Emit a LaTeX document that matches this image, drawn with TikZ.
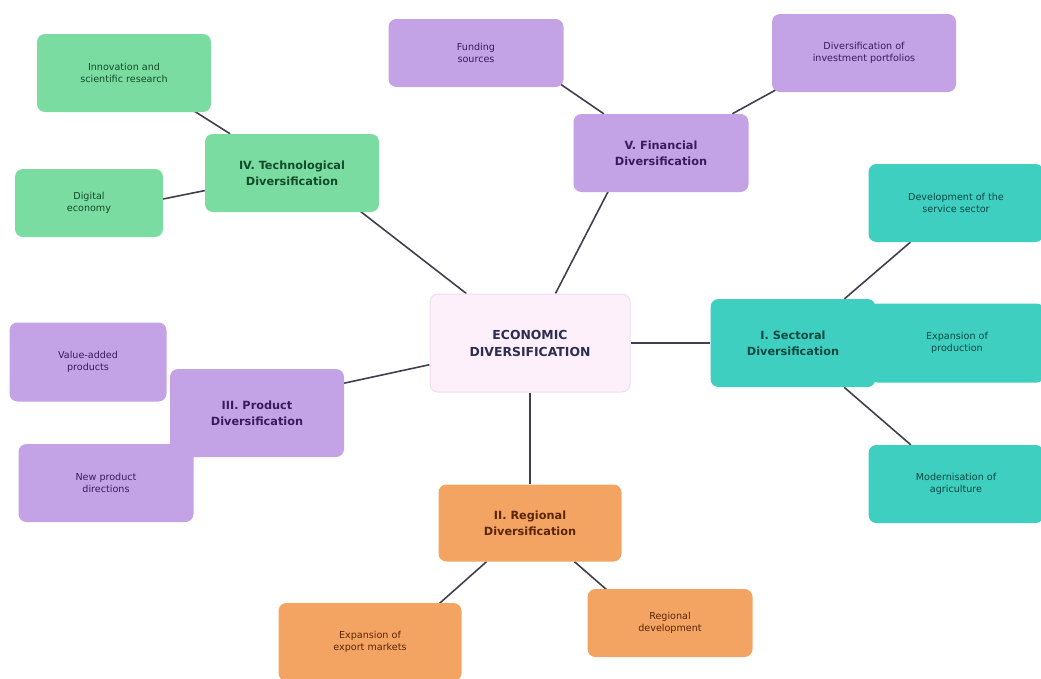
\documentclass[tikz,border=0pt]{standalone}
\usepackage{fontspec}
\setmainfont{DejaVu Sans}
\usetikzlibrary{backgrounds,calc}
\definecolor{cfill}{HTML}{FDF0FB}
\definecolor{cdraw}{HTML}{EDDDED}
\definecolor{ctext}{HTML}{2D2D50}
\definecolor{gfill}{HTML}{7BDCA2}
\definecolor{gtext}{HTML}{124A2A}
\definecolor{pfill}{HTML}{C4A2E6}
\definecolor{ptext}{HTML}{3A1A5E}
\definecolor{tfill}{HTML}{3ECFC0}
\definecolor{ttext}{HTML}{0B4842}
\definecolor{ofill}{HTML}{F4A462}
\definecolor{otext}{HTML}{5A2508}
\definecolor{lcol}{HTML}{3F3F4F}
\tikzset{
  box/.style={rectangle, rounded corners=8pt, align=center, inner sep=2pt},
  main/.style={box, font=\fontsize{11.3}{16}\selectfont\bfseries},
  sub/.style={box, font=\fontsize{9.6}{12.5}\selectfont},
  green/.style={fill=gfill, text=gtext},
  purple/.style={fill=pfill, text=ptext},
  teal/.style={fill=tfill, text=ttext},
  orange/.style={fill=ofill, text=otext},
  link/.style={draw=lcol, line width=1.6pt},
}
\begin{document}
\begin{tikzpicture}[x=1pt,y=-1pt]
\useasboundingbox (0,0) rectangle (1041,678);
% center
\node[box, fill=cfill, draw=cdraw, line width=1pt, text=ctext, font=\fontsize{12.4}{17}\selectfont\bfseries, minimum width=200pt, minimum height=98pt] (C) at (530,343) {ECONOMIC\\DIVERSIFICATION};
% IV technological
\node[main, green, minimum width=174pt, minimum height=78pt] (T4) at (292,173) {IV. Technological\\Diversification};
\node[sub, green, minimum width=174pt, minimum height=78pt] (Innov) at (124,73) {Innovation and\\scientific research};
\node[sub, green, minimum width=148pt, minimum height=68pt] (Dig) at (89,203) {Digital\\economy};
% V financial
\node[main, purple, minimum width=175pt, minimum height=78pt] (F5) at (661,153) {V. Financial\\Diversification};
\node[sub, purple, minimum width=175pt, minimum height=68pt] (Fund) at (476,53) {Funding\\sources};
\node[sub, purple, minimum width=184pt, minimum height=78pt] (Port) at (864,53) {Diversification of\\investment portfolios};
% I sectoral
\node[main, teal, minimum width=165pt, minimum height=88pt] (S1) at (793,343) {I. Sectoral\\Diversification};
\node[sub, teal, minimum width=175pt, minimum height=78pt] (Dev) at (956,203) {Development of the\\service sector};
\node[sub, teal, minimum width=175pt, minimum height=79pt] (Exp) at (957,343) {Expansion of\\production};
\node[sub, teal, minimum width=175pt, minimum height=78pt] (Mod) at (956,484) {Modernisation of\\agriculture};
% III product
\node[sub, purple, minimum width=157pt, minimum height=79pt] (VA) at (88,362) {Value-added\\products};
\node[main, purple, minimum width=174pt, minimum height=88pt] (P3) at (257,413) {III. Product\\Diversification};
\node[sub, purple, minimum width=175pt, minimum height=78pt] (NP) at (106,483) {New product\\directions};
% II regional
\node[main, orange, minimum width=183pt, minimum height=77pt] (R2) at (530,523) {II. Regional\\Diversification};
\node[sub, orange, minimum width=183pt, minimum height=78pt] (Export) at (370,642) {Expansion of\\export markets};
\node[sub, orange, minimum width=165pt, minimum height=68pt] (RD) at (670,623) {Regional\\development};
\begin{scope}[on background layer]
\draw[link] (C) -- ($(T4)+(19,0)$);
\draw[link] (C) -- ($(F5)+(-33,0)$);
\draw[link] (C) -- (S1);
\draw[link] (C) -- ($(P3)+(0,-11)$);
\draw[link] (C) -- (R2);
\draw[link] (T4) -- ($(Innov)+(10,0)$);
\draw[link] (T4) -- ($(Dig)+(0,11)$);
\draw[link] (F5) -- ($(Fund)+(39,0)$);
\draw[link] (F5) -- ($(Port)+(-21,0)$);
\draw[link] (S1) -- (Dev);
\draw[link] (S1) -- (Mod);
\draw[link] (R2) -- ($(Export)+(26,0)$);
\draw[link] (R2) -- ($(RD)+(-25,0)$);
\end{scope}
\end{tikzpicture}
\end{document}
